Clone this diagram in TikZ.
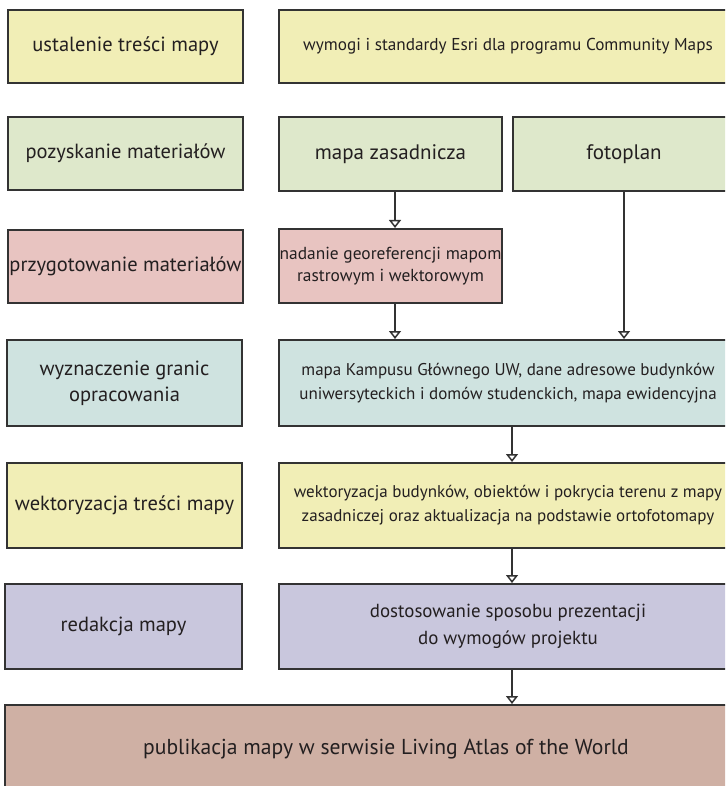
\documentclass[tikz,border=0pt]{standalone}
\usepackage{fontspec}
\setmainfont{PT Sans}
\usetikzlibrary{arrows.meta}
\definecolor{cyel}{HTML}{F1EEB6}
\definecolor{cgrn}{HTML}{DEE8CB}
\definecolor{cpnk}{HTML}{E8C4C1}
\definecolor{ctea}{HTML}{CFE3E0}
\definecolor{clav}{HTML}{C9C7DD}
\definecolor{cbrn}{HTML}{CFB0A4}
\definecolor{cline}{HTML}{333333}
\definecolor{ctext}{HTML}{231F20}
\tikzset{
  box/.style={draw=cline, line width=2pt, rectangle, anchor=north west, align=center, text=ctext, inner sep=0pt},
  lbl/.style={box, minimum width=235pt, minimum height=73pt, font=\fontsize{20.5}{26}\selectfont},
  wide/.style={box, minimum width=458pt},
  arr/.style={draw=cline, line width=1.8pt, -{Triangle[open, width=12pt, length=8pt, line width=1.5pt]}}
}
\begin{document}
\begin{tikzpicture}[x=1pt, y=-1pt]
\useasboundingbox (0,0) rectangle (725,786);
\clip (0,0) rectangle (725,786);
\coordinate (ax) at (512,0);
% left column
\node[lbl, fill=cyel] (l1) at (7,9) {ustalenie treści mapy};
\node[lbl, fill=cgrn] (l2) at (7,116) {pozyskanie materiałów};
\node[lbl, fill=cpnk] (l3) at (7,229) {przygotowanie materiałów};
\node[lbl, fill=ctea, minimum height=86pt] (l4) at (6,339) {wyznaczenie granic\\opracowania};
\node[lbl, fill=cyel, minimum height=85pt] (l5) at (6,462) {wektoryzacja treści mapy};
\node[lbl, fill=clav, minimum height=85pt, minimum width=237pt] (l6) at (4,583) {redakcja mapy};
% right column
\node[wide, fill=cyel, minimum height=73pt, font=\fontsize{17.2}{21}\selectfont] (r1) at (278,9) {wymogi i standardy Esri dla programu Community Maps};
\node[box, fill=cgrn, minimum width=223pt, minimum height=74pt, font=\fontsize{21}{25}\selectfont] (r2a) at (278,116) {mapa zasadnicza};
\node[box, fill=cgrn, minimum width=222pt, minimum height=74pt, font=\fontsize{21}{25}\selectfont] (r2b) at (512,116) {fotoplan};
\node[box, fill=cpnk, minimum width=223pt, minimum height=74pt, font=\fontsize{17.4}{22}\selectfont] (r3) at (278,228) {nadanie georeferencji mapom\\rastrowym i wektorowym};
\node[wide, fill=ctea, minimum height=86pt, font=\fontsize{17}{24}\selectfont] (r4) at (278,339) {mapa Kampusu Głównego UW, dane adresowe budynków\\uniwersyteckich i domów studenckich, mapa ewidencyjna};
\node[wide, fill=cyel, minimum height=85pt, font=\fontsize{17}{24}\selectfont] (r5) at (278,462) {wektoryzacja budynków, obiektów i pokrycia terenu z mapy\\zasadniczej oraz aktualizacja na podstawie ortofotomapy};
\node[wide, fill=clav, minimum height=85pt, font=\fontsize{18.9}{27}\selectfont] (r6) at (278,583) {dostosowanie sposobu prezentacji\\do wymogów projektu};
\node[box, fill=cbrn, minimum width=762pt, minimum height=88pt, font=\fontsize{21.6}{26}\selectfont] (bot) at (4,704) {publikacja mapy w serwisie Living Atlas of the World};
% connectors
\draw[arr] ([xshift=4.5pt]r2a.south) -- ([xshift=4.5pt]r3.north);
\draw[arr] ([xshift=4.5pt]r3.south) -- ([xshift=4.5pt]r3.south |- r4.north);
\draw[arr] (r2b.south) -- (r2b.south |- r4.north);
\draw[arr] (r4.south -| ax) -- (r5.north -| ax);
\draw[arr] (r5.south -| ax) -- (r6.north -| ax);
\draw[arr] (r6.south -| ax) -- (bot.north -| ax);
\end{tikzpicture}
\end{document}
